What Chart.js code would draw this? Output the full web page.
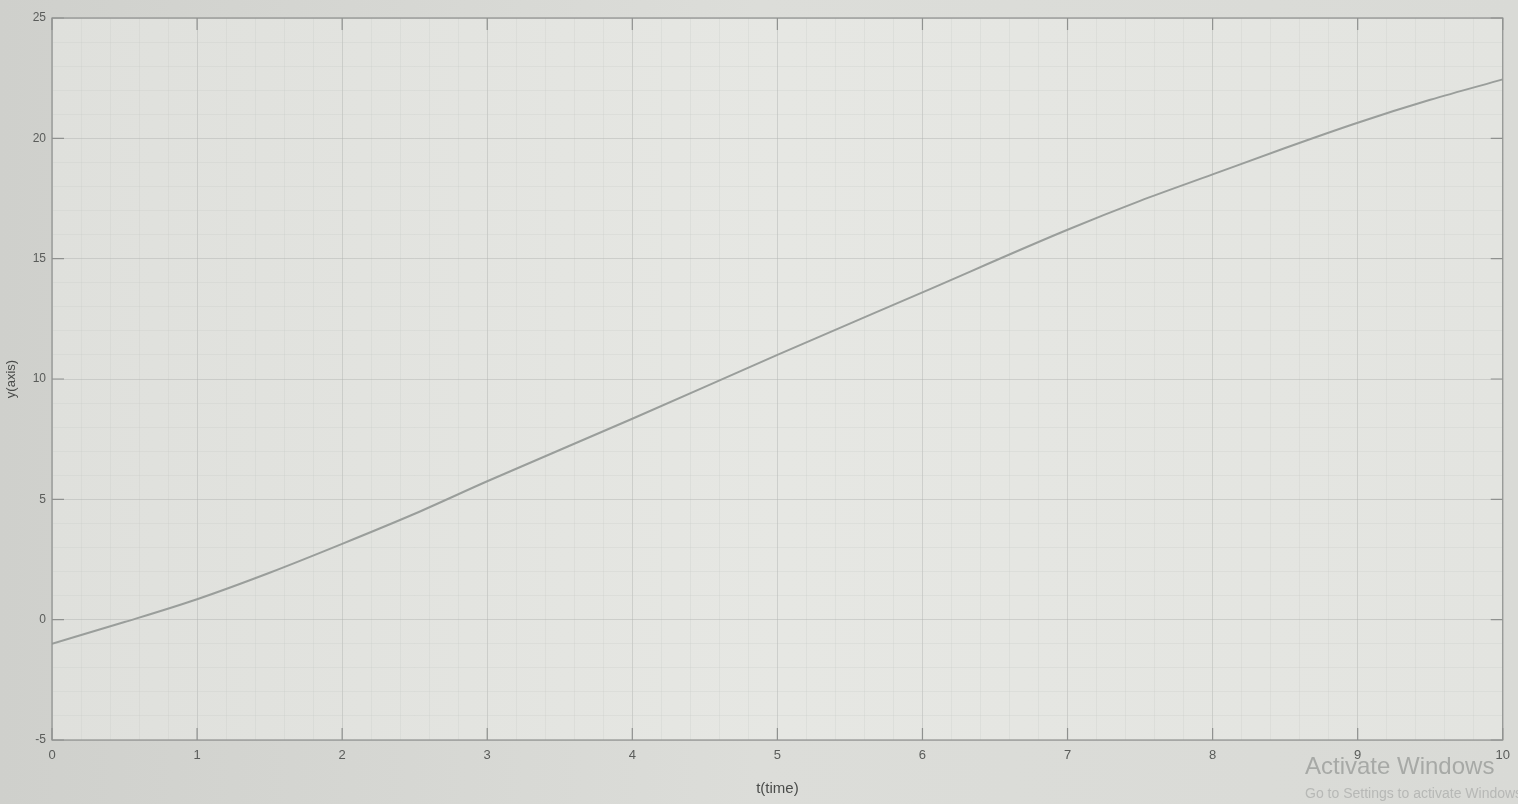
<!DOCTYPE html>
<html>
<head>
<meta charset="utf-8">
<script src="https://cdn.jsdelivr.net/npm/chart.js@4"></script>
<style>
html,body{margin:0;padding:0;background:#d6d7d3;}
#c{display:block;}
</style>
</head>
<body>
<canvas id="c" width="1518" height="804"></canvas>
<script>
const tValues = [0, 0.5, 1, 1.5, 2, 2.5, 3, 4, 5, 6, 7, 7.5, 8, 8.5, 9, 9.5, 10];
const yValues = [-1.0, -0.1, 0.85, 1.95, 3.15, 4.4, 5.75, 8.35, 11.0, 13.6, 16.2, 17.4, 18.5, 19.6, 20.65, 21.6, 22.45];
const xLabel = 't(time)';
const yLabel = 'y(axis)';
const xMin = 0, xMax = 10, xMinorStep = 0.2;
const yMin = -5, yMax = 25, yMinorStep = 1, yMajorStep = 5;
const watermark1 = 'Activate Windows';
const watermark2 = 'Go to Settings to activate Windows.';

const points = tValues.map((t, i) => ({x: t, y: yValues[i]}));
const isInt = v => Math.abs(v - Math.round(v)) < 1e-6;

const bgPlugin = {
  id: 'bg',
  beforeDraw(chart) {
    const {ctx, chartArea: a, width, height} = chart;
    ctx.save();
    const g = ctx.createLinearGradient(0, 0, width, 0);
    g.addColorStop(0, '#cfd0cc');
    g.addColorStop(0.5, '#dcddd9');
    g.addColorStop(1, '#d9dad6');
    ctx.fillStyle = g;
    ctx.fillRect(0, 0, width, height);
    const g2 = ctx.createLinearGradient(a.left, 0, a.right, 0);
    g2.addColorStop(0, '#dfe0dc');
    g2.addColorStop(0.5, '#e6e7e3');
    g2.addColorStop(1, '#e3e4e0');
    ctx.fillStyle = g2;
    ctx.fillRect(a.left, a.top, a.right - a.left, a.bottom - a.top);
    ctx.restore();
  },
  afterDraw(chart) {
    const {ctx, chartArea: a} = chart;
    ctx.save();
    ctx.strokeStyle = '#8f918f';
    ctx.lineWidth = 1.2;
    ctx.strokeRect(a.left, a.top, a.right - a.left, a.bottom - a.top);
    const xs = chart.scales.x, ys = chart.scales.y;
    ctx.beginPath();
    for (let v = xMin; v <= xMax; v++) {
      const px = xs.getPixelForValue(v);
      ctx.moveTo(px, a.bottom); ctx.lineTo(px, a.bottom - 12);
      ctx.moveTo(px, a.top); ctx.lineTo(px, a.top + 12);
    }
    for (let v = yMin; v <= yMax; v += yMajorStep) {
      const py = ys.getPixelForValue(v);
      ctx.moveTo(a.left, py); ctx.lineTo(a.left + 12, py);
      ctx.moveTo(a.right, py); ctx.lineTo(a.right - 12, py);
    }
    ctx.stroke();
    ctx.fillStyle = 'rgba(150,152,150,0.75)';
    ctx.font = '24px "Liberation Sans", Arial, sans-serif';
    ctx.textBaseline = 'alphabetic';
    ctx.fillText(watermark1, 1305, 774);
    ctx.fillStyle = 'rgba(160,162,160,0.6)';
    ctx.font = '14px "Liberation Sans", Arial, sans-serif';
    ctx.fillText(watermark2, 1305, 798);
    ctx.restore();
  }
};

new Chart(document.getElementById('c'), {
  type: 'scatter',
  data: {
    datasets: [{
      data: points,
      showLine: true,
      borderColor: '#9a9e9b',
      borderWidth: 2,
      pointRadius: 0,
      cubicInterpolationMode: 'monotone',
      fill: false
    }]
  },
  options: {
    responsive: false,
    animation: false,
    layout: {padding: {left: 0, right: 10, top: 18, bottom: 0}},
    plugins: {legend: {display: false}, tooltip: {enabled: false}},
    scales: {
      x: {
        type: 'linear', min: xMin, max: xMax,
        afterBuildTicks(scale) {
          const t = [];
          for (let i = 0; i <= Math.round((xMax - xMin) / xMinorStep); i++) t.push({value: +(xMin + i * xMinorStep).toFixed(4)});
          scale.ticks = t;
        },
        afterFit(scale) { scale.height = 64; },
        grid: {
          drawTicks: false,
          color: ctx => isInt(ctx.tick.value) ? 'rgba(175,178,175,0.45)' : 'rgba(195,198,195,0.25)',
          lineWidth: 1
        },
        border: {display: false},
        ticks: {
          autoSkip: false, maxRotation: 0, padding: 8,
          color: '#5a5c5a',
          font: {family: '"Liberation Sans", Arial, sans-serif', size: 13},
          callback: v => isInt(v) ? String(Math.round(v)) : ''
        },
        title: {display: true, text: xLabel, color: '#4a4c4a', padding: {top: 0, bottom: 6},
          font: {family: '"Liberation Sans", Arial, sans-serif', size: 15}}
      },
      y: {
        type: 'linear', min: yMin, max: yMax,
        afterBuildTicks(scale) {
          const t = [];
          for (let v = yMin; v <= yMax; v += yMinorStep) t.push({value: v});
          scale.ticks = t;
        },
        afterFit(scale) { scale.width = 52; },
        grid: {
          drawTicks: false,
          color: ctx => (ctx.tick.value % yMajorStep === 0) ? 'rgba(175,178,175,0.45)' : 'rgba(195,198,195,0.25)',
          lineWidth: 1
        },
        border: {display: false},
        ticks: {
          autoSkip: false, padding: 6,
          color: '#5a5c5a',
          font: {family: '"Liberation Sans", Arial, sans-serif', size: 12},
          callback: v => (v % yMajorStep === 0) ? String(v) : ''
        },
        title: {display: true, text: yLabel, color: '#4a4c4a', padding: {top: 4, bottom: 2},
          font: {family: '"Liberation Sans", Arial, sans-serif', size: 13}}
      }
    }
  },
  plugins: [bgPlugin]
});
</script>
</body>
</html>
